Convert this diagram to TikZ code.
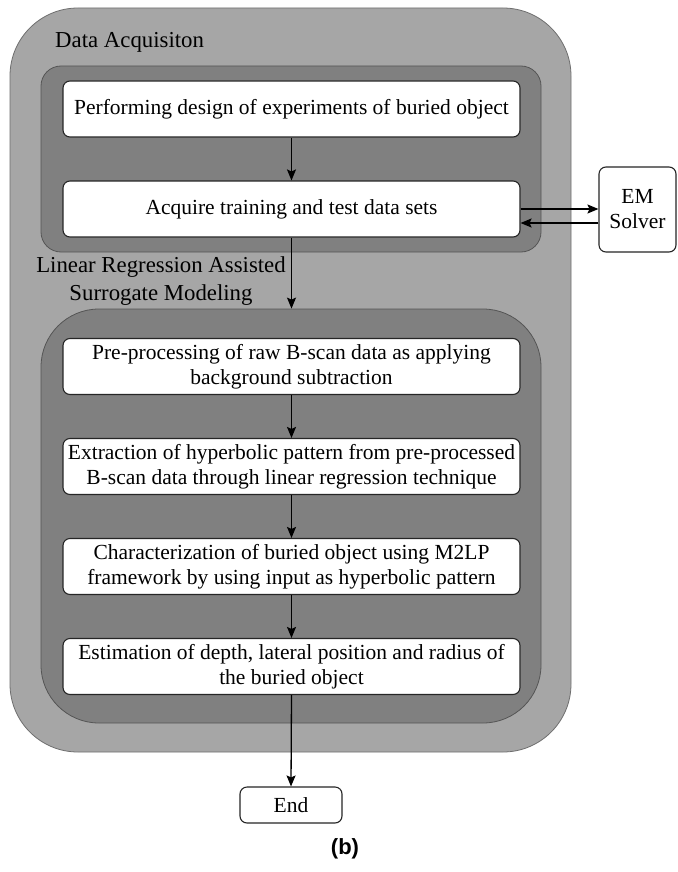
\documentclass[tikz,border=0pt]{standalone}
\usepackage{fontspec}
\setmainfont{Liberation Serif}
\newfontfamily\boxfont{Liberation Serif}
\newfontfamily\capfont{Liberation Sans}
\usetikzlibrary{arrows.meta,calc}
\definecolor{outerfill}{HTML}{A6A6A6}
\definecolor{outerline}{HTML}{6E6E6E}
\definecolor{innerfill}{HTML}{808080}
\definecolor{innerline}{HTML}{555555}
\tikzset{
  container/.style={draw=outerline, fill=outerfill, line width=0.8pt, inner sep=0pt},
  panel/.style={draw=innerline, fill=innerfill, line width=0.8pt, inner sep=0pt},
  stepbox/.style={draw=black!85, fill=white, line width=1.1pt, rounded corners=7pt,
    minimum width=457pt, minimum height=56pt, inner sep=2pt, align=center,
    font=\boxfont\fontsize{21.5}{25}\selectfont},
  smallbox/.style={draw=black!85, fill=white, line width=1.1pt, rounded corners=7pt,
    inner sep=2pt, align=center, font=\boxfont\fontsize{21.5}{25}\selectfont},
  lbl/.style={inner sep=0pt, align=center, font=\boxfont\fontsize{22.8}{28}\selectfont},
  arr/.style={-{Stealth[length=11pt,width=9pt,inset=2pt]}, line width=1.3pt, black}
}
\begin{document}
\begin{tikzpicture}[x=1pt,y=-1pt]
\useasboundingbox[fill=white] (0,0) rectangle (677,872);
% containers
\node[container, rounded corners=68pt, minimum width=561pt, minimum height=744pt] (outer) at (290.5,380) {};
\node[panel, rounded corners=20pt, minimum width=500pt, minimum height=186pt] (da) at (291,159) {};
\node[panel, rounded corners=58pt, minimum width=500pt, minimum height=414pt] (lr) at (291,516) {};
% labels
\node[lbl, anchor=west] (tda) at (55,42) {Data Acquisiton};
\node[lbl] (tlr) at (161,281) {Linear Regression Assisted\\Surrogate Modeling};
% steps
\node[stepbox] (p1) at (291.5,109) {Performing design of experiments of buried object};
\node[stepbox] (p2) at (291.5,209) {Acquire training and test data sets};
\node[stepbox] (p3) at (291.5,366.5) {Pre-processing of raw B-scan data as applying\\background subtraction};
\node[stepbox] (p4) at (291.5,466.5) {Extraction of hyperbolic pattern from pre-processed\\B-scan data through linear regression technique};
\node[stepbox] (p5) at (291.5,566.5) {Characterization of buried object using M2LP\\framework by using input as hyperbolic pattern};
\node[stepbox] (p6) at (291.5,666.5) {Estimation of depth, lateral position and radius of\\the buried object};
\node[smallbox, minimum width=102pt, minimum height=36pt] (end) at (291,805) {End};
\node[smallbox, minimum width=77pt, minimum height=85pt] (em) at (637.5,209.5) {EM\\Solver};
\node[inner sep=0pt, font=\capfont\bfseries\fontsize{22}{26}\selectfont] (cap) at (345,849) {(b)};
% connectors
\draw[arr] (p1.south) -- (p2.north);
\draw[arr] (p2.south) -- (p2.south |- lr.north);
\draw[arr] (p3.south) -- (p4.north);
\draw[arr] (p4.south) -- (p5.north);
\draw[arr] (p5.south) -- (p6.north);
\draw[arr] (p6.south) -- (end.north);
\draw[arr] (p2.east) -- (p2.east -| em.west);
\draw[arr] ([yshift=-14pt]em.west |- p2.east) -- ([yshift=-14pt]p2.east);
\end{tikzpicture}
\end{document}
